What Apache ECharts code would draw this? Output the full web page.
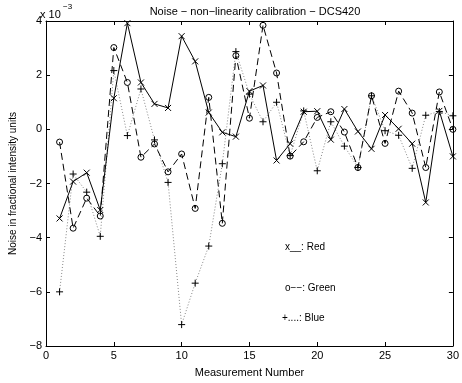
<!DOCTYPE html>
<html>
<head>
<meta charset="utf-8">
<script src="https://cdn.jsdelivr.net/npm/echarts@6/dist/echarts.min.js"></script>
<style>
html,body{margin:0;padding:0;background:#fff;}
#c{width:462px;height:383px;}
</style>
</head>
<body>
<div id="c"></div>
<script>
// Values in units of 1e-3
const measurements = Array.from({length: 30}, (_, i) => i + 1);
const redValues = [-3.29, -1.93, -1.6, -2.98, 1.15, 3.92, 1.73, 0.94, 0.79, 3.44, 2.51, 0.62, -0.11, -0.27, 1.41, 1.62, -1.15, -0.53, 0.65, 0.67, -0.38, 0.75, -0.08, -0.72, 0.53, 0.02, -0.53, -2.7, 0.68, -1.0];
const greenValues = [-0.47, -3.65, -2.54, -3.2, 3.02, 1.73, -1.03, -0.54, -1.57, -0.91, -2.92, 1.18, -3.47, 2.72, 0.41, 3.84, 2.08, -0.99, -0.46, 0.44, 0.65, -0.1, -1.41, 1.24, -0.52, 1.41, 0.6, -1.41, 1.38, 0.0];
const blueValues = [-6.0, -1.65, -2.32, -3.95, 2.17, -0.23, 1.49, -0.39, -1.96, -7.21, -5.68, -4.31, -1.27, 2.87, 1.3, 0.28, 1.0, -0.97, 0.68, -1.53, 0.28, -0.62, -1.41, 1.24, -0.05, -0.22, -1.44, 0.52, 0.66, 0.5];
const titleText = 'Noise \u2212 non\u2212linearity calibration \u2212 DCS420';
const xName = 'Measurement Number';
const yName = 'Noise in fractional intensity units';
const legendLabels = ['x__: Red', 'o\u2212\u2212: Green', '+....: Blue'];

const FONT = '"Liberation Sans", Arial, Helvetica, sans-serif';
const pair = (vals) => vals.map((v, i) => [measurements[i], v]);
const minusFmt = (v) => String(v).replace('-', '\u2212');

const chart = echarts.init(document.getElementById('c'), null, {renderer: 'canvas'});

const markerStyle = {color: 'rgba(0,0,0,0)', borderColor: '#000', borderWidth: 1};
const xSym = 'path://M0,0L10,10M10,0L0,10';
const plusSym = 'path://M5,0L5,10M0,5L10,5';

const axisCommon = {
  axisLine: {show: true, onZero: false, lineStyle: {color: '#000', width: 1}},
  axisTick: {show: true, inside: true, length: 4, lineStyle: {color: '#000'}},
  splitLine: {show: false}
};

chart.setOption({
  animation: false,
  backgroundColor: '#fff',
  title: {
    text: titleText,
    left: 250, top: 1,
    textAlign: 'center',
    textStyle: {fontFamily: FONT, fontSize: 11, fontWeight: 'normal', color: '#000'}
  },
  grid: {left: 40, right: 2, top: 21, bottom: 30, containLabel: false},
  xAxis: [
    Object.assign({
      type: 'value', min: 0, max: 30, interval: 5, position: 'bottom',
      name: xName, nameLocation: 'middle', nameGap: 21,
      nameTextStyle: {fontFamily: FONT, fontSize: 11, color: '#000'},
      axisLabel: {fontFamily: FONT, fontSize: 11, color: '#000', margin: 4, showMaxLabel: true}
    }, axisCommon),
    Object.assign({
      type: 'value', min: 0, max: 30, interval: 5, position: 'top',
      axisLabel: {show: false}
    }, axisCommon)
  ],
  yAxis: [
    Object.assign({
      type: 'value', min: -8, max: 4, interval: 2, position: 'left',
      name: yName, nameLocation: 'middle', nameGap: 28,
      nameTextStyle: {fontFamily: FONT, fontSize: 10, color: '#000'},
      axisLabel: {fontFamily: FONT, fontSize: 11, color: '#000', margin: 4, formatter: minusFmt}
    }, axisCommon),
    Object.assign({
      type: 'value', min: -8, max: 4, interval: 2, position: 'right',
      axisLabel: {show: false}
    }, axisCommon)
  ],
  graphic: [
    {type: 'text', left: 40, top: 9, style: {text: 'x 10', font: '11px ' + FONT, fill: '#000'}},
    {type: 'text', left: 63, top: 3, style: {text: '\u22123', font: '8px ' + FONT, fill: '#000'}},
    {type: 'text', left: 285, top: 242, style: {text: legendLabels[0], font: '10px ' + FONT, fill: '#000'}},
    {type: 'text', left: 285, top: 283, style: {text: legendLabels[1], font: '10px ' + FONT, fill: '#000'}},
    {type: 'text', left: 282, top: 313, style: {text: legendLabels[2], font: '10px ' + FONT, fill: '#000'}}
  ],
  series: [
    {
      name: 'Blue', type: 'line', data: pair(blueValues),
      symbol: plusSym, symbolSize: 7, showAllSymbol: true,
      itemStyle: markerStyle,
      lineStyle: {color: '#888', width: 1, type: [1, 2]},
      z: 2
    },
    {
      name: 'Green', type: 'line', data: pair(greenValues),
      symbol: 'circle', symbolSize: 6, showAllSymbol: true,
      itemStyle: markerStyle,
      lineStyle: {color: '#000', width: 1, type: [7, 4]},
      z: 3
    },
    {
      name: 'Red', type: 'line', data: pair(redValues),
      symbol: xSym, symbolSize: 6, showAllSymbol: true,
      itemStyle: markerStyle,
      lineStyle: {color: '#000', width: 1, type: 'solid'},
      z: 4
    }
  ]
});
</script>
</body>
</html>
